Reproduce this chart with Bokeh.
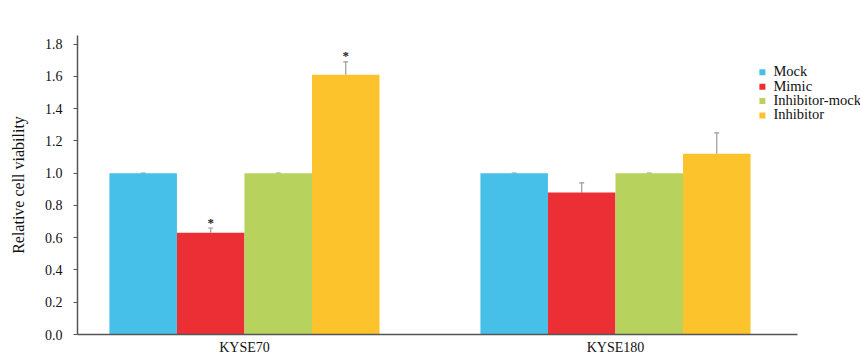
from bokeh.plotting import figure
from bokeh.models import (ColumnDataSource, FixedTicker, Whisker, TeeHead, Range1d,
                          CustomJSTickFormatter)
from bokeh.core.properties import value
from bokeh.embed import file_html
from bokeh.resources import INLINE

# Cell lines and treatment groups
cell_lines = ["KYSE70", "KYSE180"]
series = ["Mock", "Mimic", "Inhibitor-mock", "Inhibitor"]
colors = ["#46C0E9", "#EB2F34", "#B8D35D", "#FCC32C"]

# Relative cell viability (mean) per series, one value per cell line
means = {
    "Mock": [1.00, 1.00],
    "Mimic": [0.63, 0.88],
    "Inhibitor-mock": [1.00, 1.00],
    "Inhibitor": [1.61, 1.12],
}
# Standard deviation (upper error bar)
errors = {
    "Mock": [0.0, 0.0],
    "Mimic": [0.03, 0.06],
    "Inhibitor-mock": [0.0, 0.0],
    "Inhibitor": [0.08, 0.13],
}
# Significance markers
marks = {
    "Mock": ["", ""],
    "Mimic": ["*", ""],
    "Inhibitor-mock": ["", ""],
    "Inhibitor": ["*", ""],
}

y_ticks = [0.0, 0.2, 0.4, 0.6, 0.8, 1.0, 1.2, 1.4, 1.6, 1.8]

FONT = "Liberation Serif"
bar_w = 0.182
x_start, x_axis_end, x_end = -0.450, 1.4906, 1.6604
y_end = 1.853

p = figure(width=860, height=356, output_backend="svg", toolbar_location=None,
           x_range=Range1d(x_start, x_end), y_range=Range1d(0, y_end),
           min_border_left=77, min_border_right=0, min_border_top=35, min_border_bottom=22)
p.frame_width = 783
p.frame_height = 299
p.outline_line_color = None
p.xgrid.grid_line_color = None
p.ygrid.grid_line_color = None
p.background_fill_color = "white"
p.border_fill_color = "white"

for i, name in enumerate(series):
    xs = [g + (i - 1.5) * bar_w for g in range(len(cell_lines))]
    top = means[name]
    err = errors[name]
    src = ColumnDataSource(dict(x=xs, top=top, upper=[t + e for t, e in zip(top, err)],
                                mark=marks[name]))
    p.vbar(x="x", top="top", width=bar_w, source=src, fill_color=colors[i],
           line_color=None)
    w = Whisker(base="x", upper="upper", lower="top", source=src, dimension="height",
                line_color="#9a9a9a", line_width=1.2,
                upper_head=TeeHead(size=5, line_color="#9a9a9a", line_width=1.2),
                lower_head=None)
    p.add_layout(w)
    p.text(x="x", y="upper", text="mark", source=src, text_align="center",
           text_baseline="middle", y_offset=-6, text_font=value(FONT),
           text_font_size="13px", text_font_style="bold", text_color="#222222")

# Key: small colour squares with the series names, stacked at the upper right
key_x = 1.396
key_top = 1.625
key_step = 0.0892
key_src = ColumnDataSource(dict(
    x=[key_x] * len(series),
    y=[key_top - k * key_step for k in range(len(series))],
    color=colors,
    label=series,
))
p.scatter(x="x", y="y", marker="square", size=6, fill_color="color", line_color=None,
          source=key_src)
p.text(x="x", y="y", text="label", source=key_src, x_offset=11, y_offset=-1,
       text_align="left", text_baseline="middle", text_font=value(FONT),
       text_font_size="14.5px", text_color="#111111")

# y axis
p.yaxis.ticker = FixedTicker(ticks=y_ticks)
p.yaxis.formatter = CustomJSTickFormatter(code="return tick.toFixed(1);")
p.yaxis.axis_label = "Relative cell viability"
p.yaxis.axis_label_text_font = FONT
p.yaxis.axis_label_text_font_style = "normal"
p.yaxis.axis_label_text_font_size = "16px"
p.yaxis.axis_label_text_color = "#111111"
p.yaxis.axis_label_standoff = 15
p.yaxis.major_label_text_font = FONT
p.yaxis.major_label_text_font_size = "14px"
p.yaxis.major_label_text_color = "#111111"
p.yaxis.major_label_standoff = 11
p.yaxis.axis_line_color = "#555555"
p.yaxis.axis_line_width = 1.5
p.yaxis.major_tick_line_color = "#555555"
p.yaxis.major_tick_out = 4
p.yaxis.major_tick_in = 0
p.yaxis.minor_tick_line_color = None

# x axis, its line stopping short of the key area
p.xaxis.bounds = (x_start, x_axis_end)
p.xaxis.ticker = FixedTicker(ticks=list(range(len(cell_lines))))
p.xaxis.major_label_overrides = {i: c for i, c in enumerate(cell_lines)}
p.xaxis.major_label_text_font = FONT
p.xaxis.major_label_text_font_size = "14px"
p.xaxis.major_label_text_color = "#111111"
p.xaxis.major_label_standoff = 5
p.xaxis.axis_line_color = "#555555"
p.xaxis.axis_line_width = 1.5
p.xaxis.major_tick_line_color = None
p.xaxis.major_tick_out = 0
p.xaxis.major_tick_in = 0
p.xaxis.minor_tick_line_color = None

open("out.html", "w").write(file_html(p, INLINE))
